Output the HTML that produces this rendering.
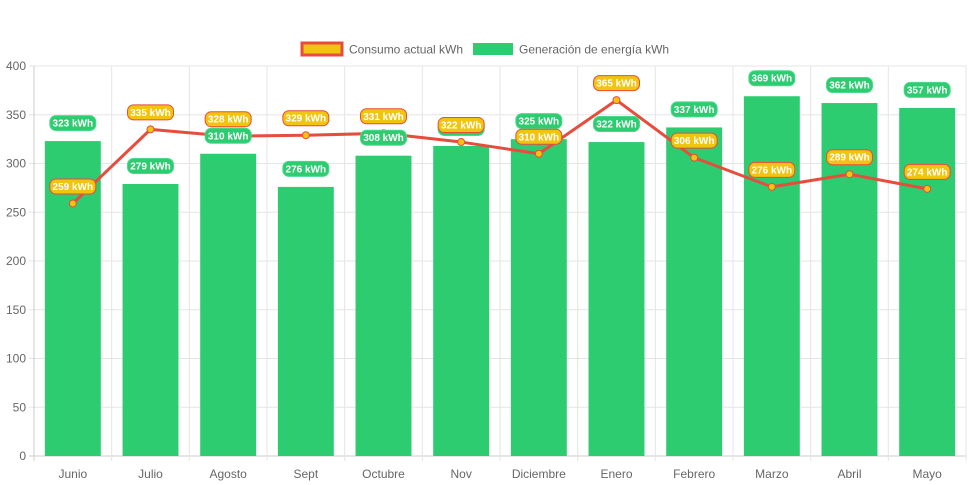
<!DOCTYPE html>
<html><head><meta charset="utf-8"><style>
body{margin:0;background:#fff;font-family:"Liberation Sans",sans-serif;}
svg{display:block}
</style></head><body>
<svg id="chart" width="971" height="485">
<g id="legend">
 <g>
  <rect x="302" y="43" width="40" height="12" fill="#f1c40f" stroke="#e74c3c" stroke-width="3"/>
  <text x="349" y="53.5" font-size="12" fill="#666">Consumo actual kWh</text>
 </g>
 <g>
  <rect x="473" y="43" width="40" height="12" fill="#2ecc71"/>
  <text x="519" y="53.5" font-size="12" fill="#666">Generación de energía kWh</text>
 </g>
</g>
<g id="grid"></g><g id="bars"></g><g id="line"></g><g id="labels"></g>
</svg>
<script>
const categories=["Junio","Julio","Agosto","Sept","Octubre","Nov","Diciembre","Enero","Febrero","Marzo","Abril","Mayo"];
const generacion=[323,279,310,276,308,318,325,322,337,369,362,357];
const consumo=[259,335,328,329,331,322,310,365,306,276,289,274];
const yTicks=[0,50,100,150,200,250,300,350,400];
const NS="http://www.w3.org/2000/svg";
const L=34,R=966,T=66,B=456,yMax=400;
const bw=(R-L)/categories.length;
const y=v=>B-(v/yMax)*(B-T);
const xc=i=>L+bw*(i+0.5);
function mk(p,tag,a){const e=document.createElementNS(NS,tag);for(const k in a)e.setAttribute(k,a[k]);p.appendChild(e);return e;}
const grid=document.getElementById('grid');
yTicks.forEach(t=>{
 const ln=mk(grid,'line',{x1:L-5,x2:R,y1:y(t),y2:y(t),stroke:t===0?'#ccc':'#e5e5e5'});
 
 
 const tx=mk(grid,'text',{x:L-8,y:y(t)+4,'text-anchor':'end','font-size':12,fill:'#666'});
 tx.textContent=t;
 
 
});
for(let i=0;i<=categories.length;i++){
 const x=L+bw*i;
 const ln=mk(grid,'line',{x1:x,x2:x,y1:T,y2:B+5,stroke:i===0?'#ccc':'#e5e5e5'});
 
 
}
categories.forEach((c,i)=>{
 const tx=mk(grid,'text',{x:xc(i),y:478,'text-anchor':'middle','font-size':12,fill:'#666'});
 tx.textContent=c;
 
 
});
const bars=document.getElementById('bars');
generacion.forEach((v,i)=>{
 const w=bw*0.72;
 const r=mk(bars,'rect',{x:xc(i)-w/2,y:y(v),width:w,height:B-y(v),fill:'#2ecc71'});
 
 
});
const lg=document.getElementById('line');
const pts=consumo.map((v,i)=>xc(i)+','+y(v)).join(' ');
const pl=mk(lg,'polyline',{points:pts,fill:'none',stroke:'#e74c3c','stroke-width':3,'stroke-linejoin':'round'});


consumo.forEach((v,i)=>{
 const c=mk(lg,'circle',{cx:xc(i),cy:y(v),r:3.5,fill:'#f1c40f',stroke:'#e74c3c','stroke-width':1});
 
 
});
const lab=document.getElementById('labels');
function pill(cx,cy,txt,fill,stroke,name){
 const g=mk(lab,'g',{});
 
 
 mk(g,'rect',{x:cx-23,y:cy-7.5,width:46,height:15,rx:6,fill:fill,stroke:stroke,'stroke-width':1});
 const t=mk(g,'text',{x:cx,y:cy+3.5,'text-anchor':'middle','font-size':10,'font-weight':'bold',fill:'#fff'});
 t.textContent=txt;
}
generacion.forEach((v,i)=>pill(xc(i),y(v)-18,v+' kWh','#2ecc71','#4cd98a','bar-value-label'));
consumo.forEach((v,i)=>pill(xc(i),y(v)-17,v+' kWh','#f1c40f','#e74c3c','line-value-label'));
</script>
</body></html>
